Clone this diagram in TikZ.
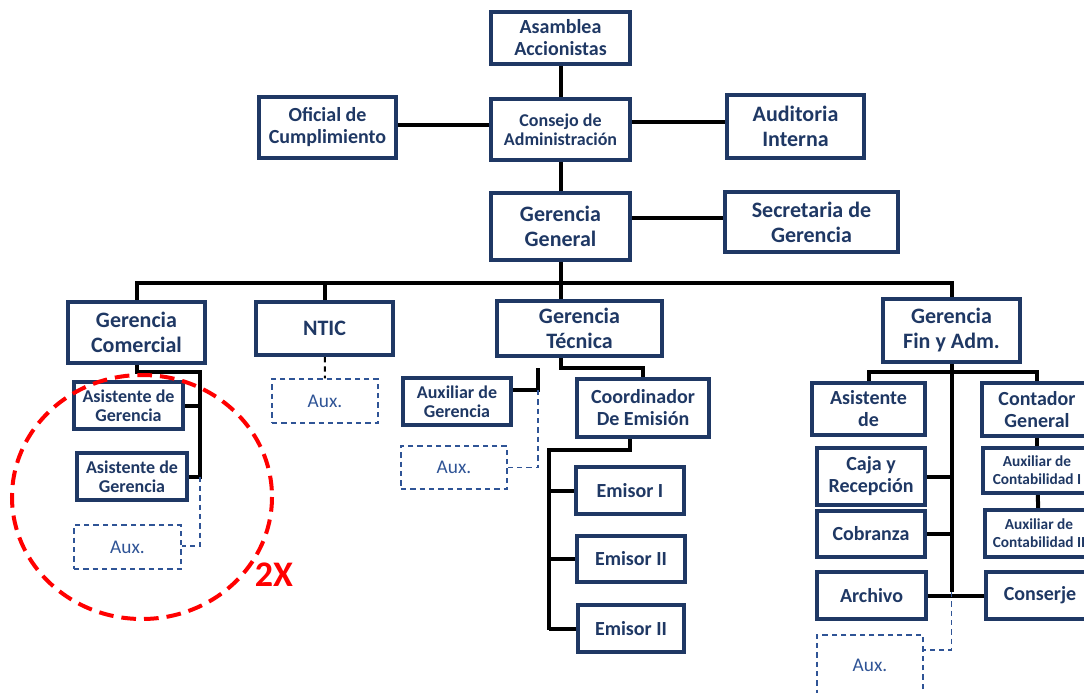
\documentclass[tikz,border=0pt]{standalone}
\usepackage{fontspec}
\setmainfont{Carlito}
\usetikzlibrary{backgrounds}
\definecolor{navy}{RGB}{31,56,100}
\definecolor{auxblue}{RGB}{47,84,150}
\newcommand\fbig{\fontsize{16.5}{18.75}\selectfont}
\newcommand\fmid{\fontsize{15}{16.5}\selectfont}
\newcommand\fsmall{\fontsize{13.5}{14.5}\selectfont}
\newcommand\ftiny{\fontsize{11.5}{13.5}\selectfont}
\tikzset{every picture/.style={line width=0.75pt}}
\tikzset{
  orgbox/.style 2 args={draw=navy, line width=3pt, fill=white, text=navy, align=center, inner sep=0pt,
    minimum width=#1*0.75pt, minimum height=#2*0.75pt},
  auxbox/.style 2 args={draw=auxblue, dashed, dash pattern=on 4pt off 3pt, line width=0.9pt, fill=white, text=auxblue,
    align=center, inner sep=0pt, font=\fontsize{14.5}{16}\selectfont, minimum width=#1*0.75pt, minimum height=#2*0.75pt},
  link/.style={draw=black, line width=3pt},
  auxlink/.style={draw=auxblue, dashed, dash pattern=on 4pt off 3pt, line width=0.9pt},
}

\begin{document}
\begin{tikzpicture}[x=0.75pt,y=0.75pt,yscale=-1,xscale=1]
	\useasboundingbox (0,0) rectangle (1084,692);
	
	%Top levels
	\node[orgbox={139}{52}, font=\bfseries\fmid] (asamblea) at (560.5,38) {Asamblea\\Accionistas};
	\node[orgbox={137}{61}, font=\bfseries\fmid] (oficial) at (327.5,127.5) {Oficial de\\Cumplimiento};
	\node[orgbox={139}{61}, font=\bfseries\fsmall] (consejo) at (560.5,129.5) {Consejo de\\Administración};
	\node[orgbox={137}{63}, font=\bfseries\fbig] (auditoria) at (795.5,126.5) {Auditoria\\Interna};
	\node[orgbox={139}{67}, font=\bfseries\fbig] (gergral) at (560.5,226.5) {Gerencia\\General};
	\node[orgbox={173}{60}, font=\bfseries\fbig] (secretaria) at (811.5,222) {Secretaria de\\Gerencia};
	
	%Gerencias
	\node[orgbox={137}{61}, font=\bfseries\fbig] (gercom) at (136.5,332.5) {Gerencia\\Comercial};
	\node[orgbox={137}{53}, font=\bfseries\fbig] (ntic) at (324.5,328.5) {NTIC};
	\node[orgbox={165}{55}, font=\bfseries\fbig] (gertec) at (579.5,328.5) {Gerencia\\Técnica};
	\node[orgbox={137}{63}, font=\bfseries\fbig] (gerfin) at (951.5,330) {Gerencia\\Fin y Adm.};
	
	%Comercial
	\node[orgbox={109}{47}, font=\bfseries\fsmall] (asis1) at (128.5,405.5) {Asistente de\\Gerencia};
	\node[orgbox={110}{47}, font=\bfseries\fsmall] (asis2) at (132,476.5) {Asistente de\\Gerencia};
	\node[auxbox={107}{44}] (auxcom) at (127.5,547) {Aux.};
	
	%NTIC
	\node[auxbox={106}{44}] (auxntic) at (325,401) {Aux.};
	
	%Tecnica
	\node[orgbox={108}{47}, font=\bfseries\fsmall] (auxger) at (457,401.5) {Auxiliar de\\Gerencia};
	\node[orgbox={132}{58}, font=\bfseries\fmid] (coord) at (643,408) {Coordinador\\De Emisión};
	\node[auxbox={106}{43}] (auxtec) at (454,467.5) {Aux.};
	\node[orgbox={108}{47}, font=\bfseries\fmid] (emisor1) at (630,490.5) {Emisor I};
	\node[orgbox={108}{46}, font=\bfseries\fmid] (emisor2) at (631,559) {Emisor II};
	\node[orgbox={106}{47}, font=\bfseries\fmid] (emisor3) at (631,628.5) {Emisor II};
	
	%Fin y Adm
	\node[orgbox={113}{52}, font=\bfseries\fmid] (asisde) at (868.5,409) {Asistente\\de};
	\node[orgbox={110}{53}, font=\bfseries\fmid] (contador) at (1037,409.5) {Contador\\General};
	\node[orgbox={108}{57}, font=\bfseries\fmid] (caja) at (871,476.5) {Caja y\\Recepción};
	\node[orgbox={108}{46}, font=\bfseries\fmid] (cobranza) at (871,534) {Cobranza};
	\node[orgbox={109}{47}, font=\bfseries\fmid] (archivo) at (871.5,595.5) {Archivo};
	\node[orgbox={108}{47}, font=\bfseries\fmid] (conserje) at (1040,595.5) {Conserje};
	\node[orgbox={108}{45}, font=\bfseries\ftiny] (auxcont1) at (1037,470.5) {Auxiliar de\\Contabilidad I};
	\node[orgbox={108}{47}, font=\bfseries\ftiny] (auxcont2) at (1039,533.5) {Auxiliar de\\Contabilidad II};
	\node[auxbox={106}{60}] (auxfin) at (870,665) {Aux.};
	
	%Coordinates for the lines
	\coordinate (bus) at (0,283);
	\coordinate (comtrunk) at (200,372);
	\coordinate (tecbus) at (0,368);
	\coordinate (tecleft) at (538,390);
	\coordinate (coordout) at (630,437);
	\coordinate (emibus) at (549,450);
	\coordinate (finbus) at (0,372);
	\coordinate (finend) at (954,592);
	
	\begin{scope}[on background layer]
	%Straight Lines
	\draw[link] (asamblea) -- (consejo);
	\draw[link] (oficial.east |- 0,125) -- (consejo.west |- 0,125);
	\draw[link] (consejo.east |- 0,122) -- (auditoria.west |- 0,122);
	\draw[link] (consejo) -- (gergral);
	\draw[link] (gergral.east |- 0,218) -- (secretaria.west |- 0,218);
	\draw[link] (gergral) -- (gergral |- bus);
	\draw[link] (gercom) -- (gercom |- bus) -- (gerfin |- bus) -- (gerfin);
	\draw[link] (ntic) -- (ntic |- bus);
	\draw[link] (gertec.north -| gergral) -- (gergral |- bus);
	
	%Comercial
	\draw[link] (gercom) -- (gercom |- comtrunk) -- (comtrunk) -- (comtrunk |- asis2) -- (asis2.east);
	\draw[link] (asis1.east) -- (comtrunk |- asis1);
	\draw[auxlink] (comtrunk |- asis2) -- (comtrunk |- 0,546) -- (auxcom.east |- 0,546);
	\draw[auxlink, line width=1.5pt, draw=black] (ntic) -- (auxntic.north);
	
	%Tecnica
	\draw[link] (gergral |- gertec.south) -- (gergral |- tecbus) -- (coord |- tecbus) -- (coord.north);
	\draw[link] (tecleft |- tecbus) -- (tecleft) -- (tecleft -| auxger.east);
	\draw[auxlink] (tecleft) -- (tecleft |- auxtec) -- (auxtec.east);
	\draw[link] (coordout |- coord) -- (coordout |- emibus) -- (emibus) -- (emibus |- 0,630);
	\draw[link] (emibus |- emisor1) -- (emisor1.west);
	\draw[link] (emibus |- emisor2) -- (emisor2.west);
	\draw[link] (emibus |- emisor3) -- (emisor3.west);
	
	%Fin y Adm
	\draw[link] (gerfin) -- (finend -| gerfin);
	\draw[link] (asisde) -- (asisde |- finbus) -- (contador |- finbus) -- (contador);
	\draw[link] (caja.east) -- (caja -| gerfin);
	\draw[link] (cobranza.east) -- (cobranza -| gerfin);
	\draw[link] (archivo.east) -- (conserje.west);
	\draw[link] (contador) -- (auxcont1);
	\draw[link] (auxcont1) -- (auxcont2);
	\draw[auxlink] (finend -| gerfin) -- (gerfin |- 0,650) -- (auxfin.east |- 0,650);
	\end{scope}
	
	%Red mark
	\draw[red, line width=3pt, dash pattern=on 11pt off 6pt] (142,497) ellipse [x radius=130, y radius=122];
	\node[text=red, font=\bfseries\fontsize{27}{27}\selectfont] (twox) at (274,575) {2X};
\end{tikzpicture}
\end{document}
